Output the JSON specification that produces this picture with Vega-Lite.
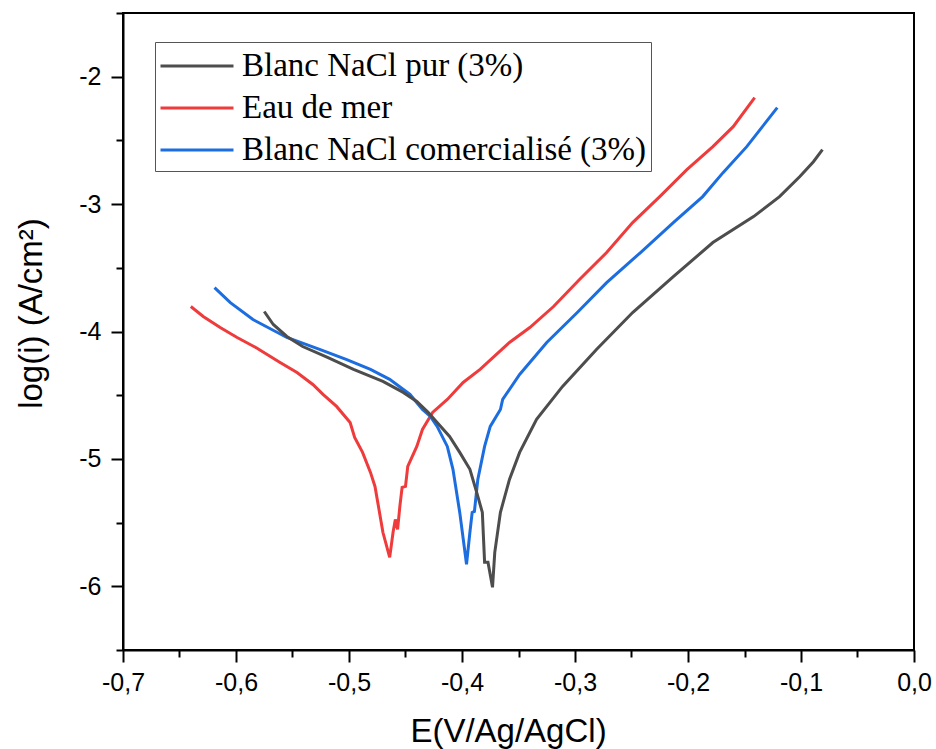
{
  "$schema": "https://vega.github.io/schema/vega-lite/v6.json",
  "width": 791,
  "height": 637,
  "autosize": {"type": "none"},
  "padding": {"left": 123, "top": 13, "right": 22, "bottom": 99},
  "background": "white",
  "config": {
    "view": {"stroke": "black", "strokeWidth": 2},
    "axis": {
      "domainColor": "black", "domainWidth": 2, "tickColor": "black", "tickWidth": 2,
      "labelFont": "Liberation Sans", "labelFontSize": 25, "labelColor": "black",
      "titleFont": "Liberation Sans", "titleFontSize": 33, "titleFontWeight": "normal", "titleColor": "black",
      "grid": false
    }
  },
  "data": {"values": [
    {"serie": "Eau de mer", "E": -0.640, "logi": -3.804},
    {"serie": "Eau de mer", "E": -0.629, "logi": -3.882},
    {"serie": "Eau de mer", "E": -0.614, "logi": -3.969},
    {"serie": "Eau de mer", "E": -0.599, "logi": -4.047},
    {"serie": "Eau de mer", "E": -0.581, "logi": -4.133},
    {"serie": "Eau de mer", "E": -0.561, "logi": -4.243},
    {"serie": "Eau de mer", "E": -0.546, "logi": -4.322},
    {"serie": "Eau de mer", "E": -0.532, "logi": -4.416},
    {"serie": "Eau de mer", "E": -0.523, "logi": -4.494},
    {"serie": "Eau de mer", "E": -0.511, "logi": -4.588},
    {"serie": "Eau de mer", "E": -0.499, "logi": -4.714},
    {"serie": "Eau de mer", "E": -0.495, "logi": -4.831},
    {"serie": "Eau de mer", "E": -0.488, "logi": -4.949},
    {"serie": "Eau de mer", "E": -0.481, "logi": -5.106},
    {"serie": "Eau de mer", "E": -0.477, "logi": -5.216},
    {"serie": "Eau de mer", "E": -0.473, "logi": -5.420},
    {"serie": "Eau de mer", "E": -0.470, "logi": -5.576},
    {"serie": "Eau de mer", "E": -0.464, "logi": -5.773},
    {"serie": "Eau de mer", "E": -0.461, "logi": -5.576},
    {"serie": "Eau de mer", "E": -0.459, "logi": -5.475},
    {"serie": "Eau de mer", "E": -0.457, "logi": -5.553},
    {"serie": "Eau de mer", "E": -0.455, "logi": -5.373},
    {"serie": "Eau de mer", "E": -0.453, "logi": -5.224},
    {"serie": "Eau de mer", "E": -0.450, "logi": -5.216},
    {"serie": "Eau de mer", "E": -0.448, "logi": -5.059},
    {"serie": "Eau de mer", "E": -0.440, "logi": -4.902},
    {"serie": "Eau de mer", "E": -0.435, "logi": -4.769},
    {"serie": "Eau de mer", "E": -0.426, "logi": -4.635},
    {"serie": "Eau de mer", "E": -0.413, "logi": -4.533},
    {"serie": "Eau de mer", "E": -0.399, "logi": -4.400},
    {"serie": "Eau de mer", "E": -0.384, "logi": -4.298},
    {"serie": "Eau de mer", "E": -0.358, "logi": -4.086},
    {"serie": "Eau de mer", "E": -0.340, "logi": -3.969},
    {"serie": "Eau de mer", "E": -0.319, "logi": -3.804},
    {"serie": "Eau de mer", "E": -0.296, "logi": -3.592},
    {"serie": "Eau de mer", "E": -0.272, "logi": -3.380},
    {"serie": "Eau de mer", "E": -0.249, "logi": -3.145},
    {"serie": "Eau de mer", "E": -0.225, "logi": -2.941},
    {"serie": "Eau de mer", "E": -0.201, "logi": -2.729},
    {"serie": "Eau de mer", "E": -0.178, "logi": -2.549},
    {"serie": "Eau de mer", "E": -0.160, "logi": -2.392},
    {"serie": "Eau de mer", "E": -0.141, "logi": -2.165},

    {"serie": "Blanc NaCl comercialisé (3%)", "E": -0.619, "logi": -3.655},
    {"serie": "Blanc NaCl comercialisé (3%)", "E": -0.605, "logi": -3.773},
    {"serie": "Blanc NaCl comercialisé (3%)", "E": -0.585, "logi": -3.906},
    {"serie": "Blanc NaCl comercialisé (3%)", "E": -0.555, "logi": -4.047},
    {"serie": "Blanc NaCl comercialisé (3%)", "E": -0.526, "logi": -4.141},
    {"serie": "Blanc NaCl comercialisé (3%)", "E": -0.502, "logi": -4.220},
    {"serie": "Blanc NaCl comercialisé (3%)", "E": -0.481, "logi": -4.298},
    {"serie": "Blanc NaCl comercialisé (3%)", "E": -0.464, "logi": -4.376},
    {"serie": "Blanc NaCl comercialisé (3%)", "E": -0.446, "logi": -4.494},
    {"serie": "Blanc NaCl comercialisé (3%)", "E": -0.435, "logi": -4.612},
    {"serie": "Blanc NaCl comercialisé (3%)", "E": -0.428, "logi": -4.667},
    {"serie": "Blanc NaCl comercialisé (3%)", "E": -0.422, "logi": -4.745},
    {"serie": "Blanc NaCl comercialisé (3%)", "E": -0.413, "logi": -4.902},
    {"serie": "Blanc NaCl comercialisé (3%)", "E": -0.408, "logi": -5.082},
    {"serie": "Blanc NaCl comercialisé (3%)", "E": -0.402, "logi": -5.420},
    {"serie": "Blanc NaCl comercialisé (3%)", "E": -0.396, "logi": -5.827},
    {"serie": "Blanc NaCl comercialisé (3%)", "E": -0.393, "logi": -5.576},
    {"serie": "Blanc NaCl comercialisé (3%)", "E": -0.391, "logi": -5.420},
    {"serie": "Blanc NaCl comercialisé (3%)", "E": -0.389, "logi": -5.412},
    {"serie": "Blanc NaCl comercialisé (3%)", "E": -0.386, "logi": -5.161},
    {"serie": "Blanc NaCl comercialisé (3%)", "E": -0.380, "logi": -4.902},
    {"serie": "Blanc NaCl comercialisé (3%)", "E": -0.375, "logi": -4.745},
    {"serie": "Blanc NaCl comercialisé (3%)", "E": -0.366, "logi": -4.612},
    {"serie": "Blanc NaCl comercialisé (3%)", "E": -0.364, "logi": -4.533},
    {"serie": "Blanc NaCl comercialisé (3%)", "E": -0.349, "logi": -4.337},
    {"serie": "Blanc NaCl comercialisé (3%)", "E": -0.325, "logi": -4.086},
    {"serie": "Blanc NaCl comercialisé (3%)", "E": -0.298, "logi": -3.851},
    {"serie": "Blanc NaCl comercialisé (3%)", "E": -0.272, "logi": -3.616},
    {"serie": "Blanc NaCl comercialisé (3%)", "E": -0.242, "logi": -3.380},
    {"serie": "Blanc NaCl comercialisé (3%)", "E": -0.213, "logi": -3.145},
    {"serie": "Blanc NaCl comercialisé (3%)", "E": -0.187, "logi": -2.941},
    {"serie": "Blanc NaCl comercialisé (3%)", "E": -0.169, "logi": -2.753},
    {"serie": "Blanc NaCl comercialisé (3%)", "E": -0.148, "logi": -2.549},
    {"serie": "Blanc NaCl comercialisé (3%)", "E": -0.121, "logi": -2.243},

    {"serie": "Blanc NaCl pur (3%)", "E": -0.575, "logi": -3.843},
    {"serie": "Blanc NaCl pur (3%)", "E": -0.567, "logi": -3.945},
    {"serie": "Blanc NaCl pur (3%)", "E": -0.555, "logi": -4.039},
    {"serie": "Blanc NaCl pur (3%)", "E": -0.541, "logi": -4.118},
    {"serie": "Blanc NaCl pur (3%)", "E": -0.519, "logi": -4.204},
    {"serie": "Blanc NaCl pur (3%)", "E": -0.496, "logi": -4.298},
    {"serie": "Blanc NaCl pur (3%)", "E": -0.470, "logi": -4.392},
    {"serie": "Blanc NaCl pur (3%)", "E": -0.452, "logi": -4.478},
    {"serie": "Blanc NaCl pur (3%)", "E": -0.440, "logi": -4.549},
    {"serie": "Blanc NaCl pur (3%)", "E": -0.430, "logi": -4.635},
    {"serie": "Blanc NaCl pur (3%)", "E": -0.422, "logi": -4.714},
    {"serie": "Blanc NaCl pur (3%)", "E": -0.411, "logi": -4.824},
    {"serie": "Blanc NaCl pur (3%)", "E": -0.402, "logi": -4.949},
    {"serie": "Blanc NaCl pur (3%)", "E": -0.393, "logi": -5.082},
    {"serie": "Blanc NaCl pur (3%)", "E": -0.387, "logi": -5.263},
    {"serie": "Blanc NaCl pur (3%)", "E": -0.382, "logi": -5.420},
    {"serie": "Blanc NaCl pur (3%)", "E": -0.380, "logi": -5.812},
    {"serie": "Blanc NaCl pur (3%)", "E": -0.377, "logi": -5.812},
    {"serie": "Blanc NaCl pur (3%)", "E": -0.373, "logi": -6.008},
    {"serie": "Blanc NaCl pur (3%)", "E": -0.371, "logi": -5.733},
    {"serie": "Blanc NaCl pur (3%)", "E": -0.366, "logi": -5.420},
    {"serie": "Blanc NaCl pur (3%)", "E": -0.358, "logi": -5.161},
    {"serie": "Blanc NaCl pur (3%)", "E": -0.349, "logi": -4.949},
    {"serie": "Blanc NaCl pur (3%)", "E": -0.334, "logi": -4.690},
    {"serie": "Blanc NaCl pur (3%)", "E": -0.311, "logi": -4.431},
    {"serie": "Blanc NaCl pur (3%)", "E": -0.281, "logi": -4.141},
    {"serie": "Blanc NaCl pur (3%)", "E": -0.249, "logi": -3.851},
    {"serie": "Blanc NaCl pur (3%)", "E": -0.213, "logi": -3.569},
    {"serie": "Blanc NaCl pur (3%)", "E": -0.178, "logi": -3.302},
    {"serie": "Blanc NaCl pur (3%)", "E": -0.142, "logi": -3.098},
    {"serie": "Blanc NaCl pur (3%)", "E": -0.119, "logi": -2.941},
    {"serie": "Blanc NaCl pur (3%)", "E": -0.101, "logi": -2.784},
    {"serie": "Blanc NaCl pur (3%)", "E": -0.089, "logi": -2.667},
    {"serie": "Blanc NaCl pur (3%)", "E": -0.081, "logi": -2.573}
  ]},
  "mark": {"type": "line", "strokeWidth": 3, "clip": true, "interpolate": "linear"},
  "encoding": {
    "x": {
      "field": "E", "type": "quantitative",
      "scale": {"domain": [-0.7, 0], "nice": false, "zero": false},
      "axis": {
        "title": "E(V/Ag/AgCl)",
        "values": [-0.7, -0.65, -0.6, -0.55, -0.5, -0.45, -0.4, -0.35, -0.3, -0.25, -0.2, -0.15, -0.1, -0.05, 0],
        "labelExpr": "abs(round(datum.value*20)) % 2 === 0 ? replace(replace(format(datum.value, '.1f'), '.', ','), '\u2212', '-') : ''",
        "tickSize": {"condition": {"test": "abs(round(datum.value*20)) % 2 === 0", "value": 12}, "value": 7},
        "labelPadding": 8,
        "titlePadding": 20,
        "titleX": 385,
        "labelFlush": false,
        "labelOverlap": false
      }
    },
    "y": {
      "field": "logi", "type": "quantitative",
      "scale": {"domain": [-6.5, -1.5], "nice": false, "zero": false},
      "axis": {
        "title": "log(i) (A/cm²)",
        "values": [-6.5, -6, -5.5, -5, -4.5, -4, -3.5, -3, -2.5, -2, -1.5],
        "labelExpr": "abs(round(datum.value*2)) % 2 === 0 ? replace(format(datum.value, 'd'), '\u2212', '-') : ''",
        "tickSize": {"condition": {"test": "abs(round(datum.value*2)) % 2 === 0", "value": 12}, "value": 7},
        "labelPadding": 10,
        "titlePadding": 30,
        "titleY": 300,
        "labelFlush": false,
        "labelOverlap": false
      }
    },
    "color": {
      "field": "serie", "type": "nominal",
      "scale": {
        "domain": ["Blanc NaCl pur (3%)", "Eau de mer", "Blanc NaCl comercialisé (3%)"],
        "range": ["#4d4d4d", "#ef3b3b", "#1c6ee0"]
      },
      "legend": {
        "title": null,
        "orient": "none",
        "legendX": 32,
        "legendY": 29,
        "symbolType": "M-2,0H2",
        "symbolSize": 1332,
        "symbolOffset": 18,
        "symbolStrokeWidth": 3,
        "symbolFillColor": "transparent",
        "labelFont": "Liberation Serif",
        "labelFontSize": 33,
        "labelColor": "black",
        "labelLimit": 600,
        "labelOffset": 25,
        "rowPadding": 5,
        "padding": 4,
        "strokeColor": "#555555",
        "fillColor": "white"
      }
    }
  }
}
